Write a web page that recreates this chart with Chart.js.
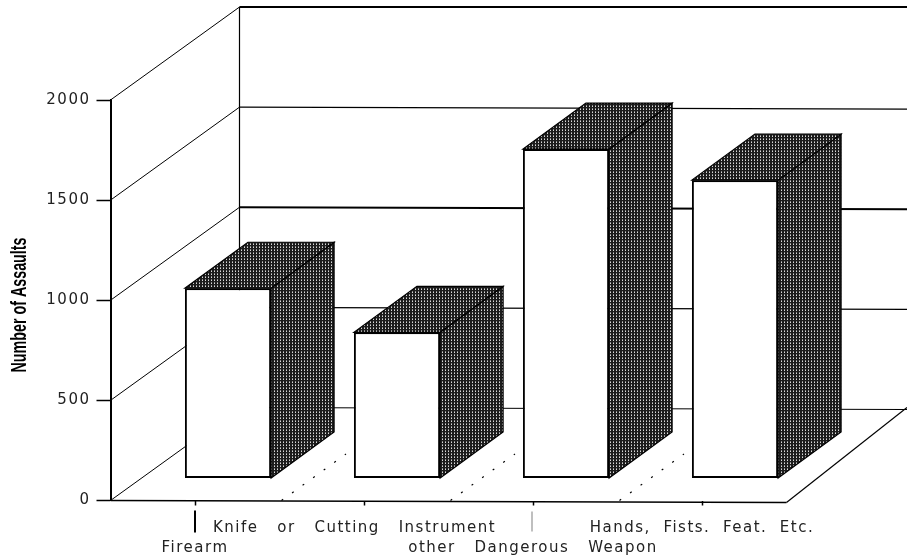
<!DOCTYPE html>
<html>
<head>
<meta charset="utf-8">
<style>
  html, body { margin: 0; padding: 0; background: #fff; }
  canvas { display: block; }
</style>
<script src="https://cdn.jsdelivr.net/npm/chart.js@4"></script>
</head>
<body>
<canvas id="chart" width="907" height="560"></canvas>
<script>
const categories = [
  ["", "Firearm"],
  ["Knife   or   Cutting   Instrument   "],
  ["", "other   Dangerous   Weapon"],
  ["Hands,  Fists.  Feat.  Etc."]
];
const assaults = [950, 730, 1645, 1490];
const yTicks = [0, 500, 1000, 1500, 2000];
const yTitle = "Number of Assaults";

// how the flat chart is pushed into the "3D" box
const WALL = { dx: 129, dy: -93 };
const BAR_SHIFT = { dx: 33, dy: -22 };
const BAR_DEPTH = { dx: 63, dy: -46 };
const SKEW = 2; // reference scan is very slightly tilted

function halftone() {
  const tile = document.createElement("canvas");
  tile.width = 3;
  tile.height = 3;
  const t = tile.getContext("2d");
  t.fillStyle = "#1c1c1c";
  t.fillRect(0, 0, 3, 3);
  t.fillStyle = "#d8d8d8";
  t.fillRect(1, 1, 1, 1);
  t.fillStyle = "#8a8a8a";
  t.fillRect(1, 0, 1, 1);
  return tile;
}

function line(ctx, x1, y1, x2, y2, width, color) {
  ctx.beginPath();
  ctx.moveTo(x1, y1);
  ctx.lineTo(x2, y2);
  ctx.lineWidth = width;
  ctx.strokeStyle = color || "#000";
  ctx.stroke();
}

function poly(ctx, points, fill) {
  ctx.beginPath();
  points.forEach((p, i) => (i ? ctx.lineTo(p[0], p[1]) : ctx.moveTo(p[0], p[1])));
  ctx.closePath();
  ctx.fillStyle = fill;
  ctx.fill();
  ctx.lineWidth = 1.2;
  ctx.strokeStyle = "#000";
  ctx.stroke();
}

const box3d = {
  id: "box3d",
  beforeDraw(chart) {
    chart.ctx.letterSpacing = "1.5px";
  },
  beforeDatasetsDraw(chart) {
    const ctx = chart.ctx;
    const { left, right } = chart.chartArea;
    const y = chart.scales.y;
    const x = chart.scales.x;
    const wallX = left + WALL.dx;
    const width = chart.width;

    ctx.save();
    ctx.letterSpacing = "0px";
    // back wall + side wall
    const topY = y.getPixelForValue(yTicks[yTicks.length - 1]) + WALL.dy;
    const zeroY = y.getPixelForValue(0);
    line(ctx, wallX, topY, wallX, zeroY + WALL.dy, 1.2);
    yTicks.forEach((v) => {
      const py = y.getPixelForValue(v);
      const heavy = v === 2000 || v === 1000;
      line(ctx, left, py, wallX, py + WALL.dy, 1);
      line(ctx, wallX, py + WALL.dy, width, py + WALL.dy + (v === 2000 ? 0 : SKEW), heavy ? 2 : 1.2);
    });

    // floor edges
    line(ctx, left, zeroY, right, zeroY + SKEW, 1.6);
    line(ctx, right, zeroY + SKEW, width, zeroY + WALL.dy, 1.2);

    // dotted floor lines between the categories, front half only
    ctx.setLineDash([2, 11]);
    for (let i = 0; i < categories.length - 1; i++) {
      const bx = (x.getPixelForValue(i) + x.getPixelForValue(i + 1)) / 2;
      line(ctx, bx + 2, zeroY, bx + 2 + WALL.dx / 2, zeroY + WALL.dy / 2, 1.2);
    }
    ctx.setLineDash([]);

    // leader lines to the labels sitting on the second row
    line(ctx, x.getPixelForValue(0), zeroY + 10, x.getPixelForValue(0), zeroY + 32, 2);
    line(ctx, x.getPixelForValue(2) - 1, zeroY + 11, x.getPixelForValue(2) - 1, zeroY + 31, 1.5, "#aaa");

    // side and top faces of the bars
    const pattern = ctx.createPattern(halftone(), "repeat");
    chart.getDatasetMeta(0).data.forEach((bar) => {
      const p = bar.getProps(["x", "y", "base", "width"], true);
      const x1 = p.x - p.width / 2 + BAR_SHIFT.dx;
      const x2 = p.x + p.width / 2 + BAR_SHIFT.dx;
      const top = p.y + BAR_SHIFT.dy;
      const bottom = p.base + BAR_SHIFT.dy;
      poly(ctx, [[x2, top], [x2 + BAR_DEPTH.dx, top + BAR_DEPTH.dy], [x2 + BAR_DEPTH.dx, bottom + BAR_DEPTH.dy], [x2, bottom]], pattern);
      poly(ctx, [[x1, top], [x2, top], [x2 + BAR_DEPTH.dx, top + BAR_DEPTH.dy], [x1 + BAR_DEPTH.dx, top + BAR_DEPTH.dy]], pattern);
    });
    ctx.restore();
  },
  beforeDatasetDraw(chart) {
    chart.ctx.save();
    chart.ctx.translate(BAR_SHIFT.dx, BAR_SHIFT.dy);
  },
  afterDatasetDraw(chart) {
    chart.ctx.restore();
  },
  afterDraw(chart) {
    const ctx = chart.ctx;
    ctx.save();
    ctx.letterSpacing = "0px";
    ctx.translate(20, 305);
    ctx.rotate(-Math.PI / 2);
    ctx.scale(0.65, 1);
    ctx.font = "bold 22px 'Liberation Sans'";
    ctx.fillStyle = "#000";
    ctx.textAlign = "center";
    ctx.textBaseline = "middle";
    ctx.fillText(yTitle, 0, 0);
    ctx.restore();
  }
};

new Chart(document.getElementById("chart"), {
  type: "bar",
  data: {
    labels: categories,
    datasets: [{
      data: assaults,
      backgroundColor: "#fff",
      borderColor: "#000",
      borderWidth: 2,
      borderSkipped: false,
      barPercentage: 0.51,
      categoryPercentage: 1,
      clip: false
    }]
  },
  options: {
    responsive: false,
    animation: false,
    layout: { padding: { top: 100, right: 120.5, left: 0, bottom: 0 } },
    plugins: { legend: { display: false }, tooltip: { enabled: false } },
    scales: {
      x: {
        afterFit: (scale) => { scale.height = 59.5; },
        border: { display: false },
        grid: { offset: false, drawOnChartArea: false, tickLength: 5, tickColor: "#000", tickWidth: 1.5 },
        ticks: {
          autoSkip: false,
          maxRotation: 0,
          minRotation: 0,
          padding: 12,
          color: "#222",
          font: { family: "'DejaVu Sans'", size: 15, lineHeight: 1.35 }
        }
      },
      y: {
        min: 0,
        max: 2000,
        afterFit: (scale) => { scale.width = 110.5; },
        border: { display: true, color: "#000", width: 2 },
        grid: { drawOnChartArea: false, tickLength: 14, tickColor: "#000", tickWidth: 1.5 },
        ticks: {
          stepSize: 500,
          padding: 6,
          color: "#222",
          font: { family: "'DejaVu Sans'", size: 15 },
          callback: (v) => String(v)
        }
      }
    }
  },
  plugins: [box3d]
});
</script>
</body>
</html>
